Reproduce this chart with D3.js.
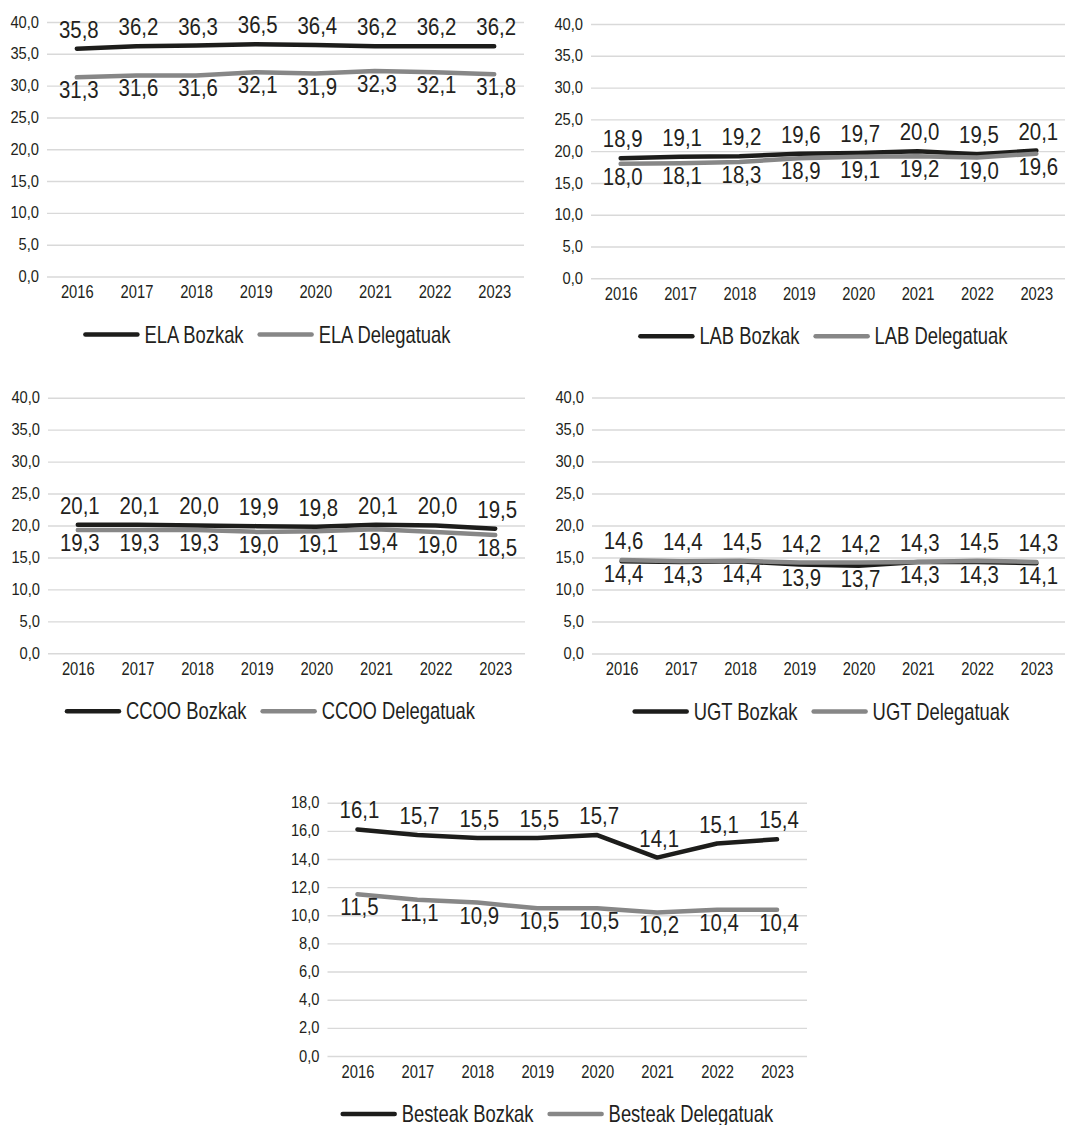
<!DOCTYPE html>
<html>
<head>
<meta charset="utf-8">
<script src="https://cdn.jsdelivr.net/npm/d3@7"></script>
<style>
  html, body { margin: 0; padding: 0; background: #ffffff; }
  svg { display: block; }
  text { font-family: "Liberation Sans", Arial, sans-serif; fill: #231f20; }
</style>
</head>
<body>
<svg id="chart" width="1065" height="1125"></svg>
<script>
// ---------- DATA ----------
const years = ["2016", "2017", "2018", "2019", "2020", "2021", "2022", "2023"];

const elaBozkak      = [35.8, 36.2, 36.3, 36.5, 36.4, 36.2, 36.2, 36.2];
const elaDelegatuak  = [31.3, 31.6, 31.6, 32.1, 31.9, 32.3, 32.1, 31.8];

const labBozkak      = [18.9, 19.1, 19.2, 19.6, 19.7, 20.0, 19.5, 20.1];
const labDelegatuak  = [18.0, 18.1, 18.3, 18.9, 19.1, 19.2, 19.0, 19.6];

const ccooBozkak     = [20.1, 20.1, 20.0, 19.9, 19.8, 20.1, 20.0, 19.5];
const ccooDelegatuak = [19.3, 19.3, 19.3, 19.0, 19.1, 19.4, 19.0, 18.5];

const ugtBozkak      = [14.4, 14.3, 14.4, 13.9, 13.7, 14.3, 14.3, 14.1];
const ugtDelegatuak  = [14.6, 14.4, 14.5, 14.2, 14.2, 14.3, 14.5, 14.3];

const besteakBozkak     = [16.1, 15.7, 15.5, 15.5, 15.7, 14.1, 15.1, 15.4];
const besteakDelegatuak = [11.5, 11.1, 10.9, 10.5, 10.5, 10.2, 10.4, 10.4];

const yTicks40 = [0, 5, 10, 15, 20, 25, 30, 35, 40];
const yTicks18 = [0, 2, 4, 6, 8, 10, 12, 14, 16, 18];

const seriesNames = ["Bozkak", "Delegatuak"];

// ---------- STYLE / LAYOUT ----------
const BLACK = "#1d1d1b";
const GREY = "#878787";
const GRID = "#d9d9d9";
const fmt = v => d3.format(".1f")(v).replace(".", ",");

// compress text horizontally (around its anchor x) to mimic a condensed face
function condense(sel, factor) {
  let w = 0;
  sel.each(function () {
    const ax = +(this.getAttribute("x") || 0);
    w = this.getComputedTextLength() * factor;
    d3.select(this).attr("transform",
      `translate(${ax},0) scale(${factor},1) translate(${-ax},0)`);
  });
  return w;
}

const panels = [
  { union: "ELA", bozkak: elaBozkak, deleg: elaDelegatuak, ticks: yTicks40, max: 40,
    left: 47, right: 524, top: 22, bottom: 276.5, legendCenter: 268, bozkakAbove: true },
  { union: "LAB", bozkak: labBozkak, deleg: labDelegatuak, ticks: yTicks40, max: 40,
    left: 591, right: 1066, top: 24, bottom: 278.3, legendCenter: 824, bozkakAbove: true },
  { union: "CCOO", bozkak: ccooBozkak, deleg: ccooDelegatuak, ticks: yTicks40, max: 40,
    left: 48, right: 525, top: 397.7, bottom: 653.3, legendCenter: 271, bozkakAbove: true },
  { union: "UGT", bozkak: ugtBozkak, deleg: ugtDelegatuak, ticks: yTicks40, max: 40,
    left: 592, right: 1066, top: 397.5, bottom: 653.5, legendCenter: 822, bozkakAbove: false },
  { union: "Besteak", bozkak: besteakBozkak, deleg: besteakDelegatuak, ticks: yTicks18, max: 18,
    left: 327.5, right: 807, top: 802.7, bottom: 1056, legendCenter: 558, bozkakAbove: true }
];

const svg = d3.select("#chart");

panels.forEach(p => {
  const g = svg.append("g");
  const x = d3.scalePoint().domain(years).range([p.left, p.right]).padding(0.5);
  const y = d3.scaleLinear().domain([0, p.max]).range([p.bottom, p.top]);
  const width = p.right - p.left;

  // y axis with gridlines
  const yAxis = g.append("g")
    .attr("transform", `translate(${p.left},0)`)
    .call(d3.axisLeft(y).tickValues(p.ticks).tickSize(-width).tickPadding(8).tickFormat(fmt));
  yAxis.select(".domain").remove();
  yAxis.selectAll(".tick line").attr("stroke", GRID).attr("stroke-width", 1.4);
  yAxis.selectAll(".tick text")
    .attr("font-size", 16)
    .attr("fill", "#231f20")
    .style("font-family", '"Liberation Sans", Arial, sans-serif');
  condense(yAxis.selectAll(".tick text"), 0.92);

  // x axis labels
  const xAxis = g.append("g")
    .attr("transform", `translate(0,${p.bottom})`)
    .call(d3.axisBottom(x).tickSize(0).tickPadding(0));
  xAxis.select(".domain").remove();
  xAxis.selectAll(".tick text")
    .attr("y", 22).attr("dy", null)
    .attr("font-size", 18)
    .attr("fill", "#231f20")
    .style("font-family", '"Liberation Sans", Arial, sans-serif');
  condense(xAxis.selectAll(".tick text"), 0.82);

  const series = [
    { name: p.union + " " + seriesNames[0], values: p.bozkak, color: BLACK, above: p.bozkakAbove },
    { name: p.union + " " + seriesNames[1], values: p.deleg, color: GREY, above: !p.bozkakAbove }
  ];

  const line = d3.line()
    .x((d, i) => x(years[i]))
    .y(d => y(d));

  series.forEach(s => {
    g.append("path")
      .datum(s.values)
      .attr("d", line)
      .attr("fill", "none")
      .attr("stroke", s.color)
      .attr("stroke-width", 4.5)
      .attr("stroke-linecap", "round")
      .attr("stroke-linejoin", "round");
  });

  series.forEach(s => {
    const labels = g.append("g").selectAll("text")
      .data(s.values)
      .join("text")
      .attr("x", (d, i) => x(years[i]) + 2)
      .attr("y", d => s.above ? y(d) - 11 : y(d) + 21)
      .attr("text-anchor", "middle")
      .attr("font-size", 24)
      .text(d => fmt(d));
    condense(labels, 0.85);
  });

  // legend
  const lg = g.append("g");
  const legY = p.bottom + 58;
  const sampleLen = 52, gapText = 7, gapItem = 16;
  const items = series.map(s => {
    const it = lg.append("g");
    it.append("line")
      .attr("x1", 0).attr("x2", sampleLen)
      .attr("y1", 0).attr("y2", 0)
      .attr("stroke", s.color).attr("stroke-width", 4.5).attr("stroke-linecap", "round");
    const t = it.append("text")
      .attr("x", sampleLen + gapText)
      .attr("y", 8)
      .attr("font-size", 23)
      .text(s.name);
    const tw = condense(t, 0.8);
    return { g: it, w: sampleLen + gapText + tw };
  });
  const total = items[0].w + gapItem + items[1].w;
  let cx = p.legendCenter - total / 2;
  items.forEach(it => {
    it.g.attr("transform", `translate(${cx},${legY})`);
    cx += it.w + gapItem;
  });
});
</script>
</body>
</html>
